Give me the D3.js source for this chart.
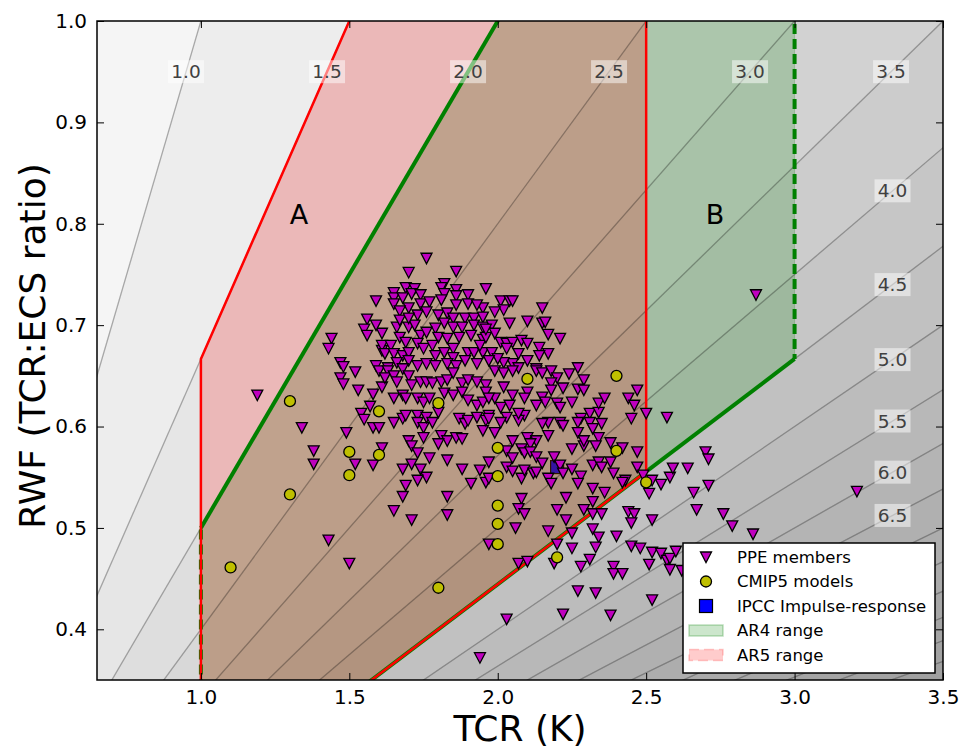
<!DOCTYPE html>
<html>
<head>
<meta charset="utf-8">
<script src="https://d3js.org/d3.v7.min.js"></script>
<style>
body { margin: 0; background: #fff; }
text { font-family: "DejaVu Sans", sans-serif; }
</style>
</head>
<body>
<div id="chart"></div>
<script>
// ECS = TCR / RWF, contour levels
var ecs_levels = [1.0,1.5,2.0,2.5,3.0,3.5,4.0,4.5,5.0,5.5,6.0,6.5,7.0,7.5,8.0,8.5,9.0,9.5,10.0,10.5];
var band_edges = [0.5,1.0,1.5,2.0,2.5,3.0,3.5,4.0,4.5,5.0,5.5,6.0,6.5,7.0,7.5,8.0,8.5,9.0,9.5,10.0,10.5,12.0];
var band_greys = [245,237,230,222,216,210,204,198,193,188,184,180,176,173,170,167,164,162,160,158,156];
var label_levels = [1.0,1.5,2.0,2.5,3.0,3.5,4.0,4.5,5.0,5.5,6.0,6.5];
var x_ticks = [1.0,1.5,2.0,2.5,3.0,3.5];
var y_ticks = [0.4,0.5,0.6,0.7,0.8,0.9,1.0];

// assessed ranges: TCR range and ECS range
var ar4_tcr = [1.0, 3.0], ar4_ecs = [2.0, 4.5];
var ar5_tcr = [1.0, 2.5], ar5_ecs = [1.5, 4.5];

var ipcc_impulse = [[2.20, 0.560]];

var cmip5_models = [
[1.10,0.461],[1.30,0.625],[1.30,0.533],[1.50,0.575],[1.50,0.552],[1.60,0.615],[1.60,0.572],
[1.80,0.623],[1.80,0.441],[2.00,0.579],[2.00,0.551],[2.00,0.522],[2.00,0.504],[2.00,0.484],
[2.10,0.647],[2.20,0.471],[2.40,0.650],[2.40,0.576],[2.50,0.545]];

var ppe_members = [
[1.19,0.631],[1.34,0.599],[1.38,0.576],[1.38,0.563],[1.43,0.488],[1.50,0.465],[1.49,0.594],[1.52,0.563],[1.58,0.562],
[1.44,0.687],[1.43,0.677],[1.59,0.724],[1.56,0.706],[1.55,0.696],[1.56,0.690],[1.61,0.692],[1.47,0.663],[1.48,0.659],
[1.52,0.654],[1.47,0.648],[1.48,0.642],[1.53,0.636],[1.58,0.632],[1.57,0.620],[1.54,0.613],[1.55,0.607],[1.58,0.599],
[1.60,0.599],[1.61,0.579],[1.61,0.675],
[1.76,0.766],[1.70,0.752],[1.86,0.753],[1.82,0.741],[1.81,0.737],[1.96,0.736],[1.65,0.732],[1.69,0.737],[1.72,0.736],[1.86,0.735],
[1.65,0.727],[1.68,0.727],[1.71,0.731],[1.74,0.730],[1.82,0.731],[1.86,0.729],[1.90,0.730],[1.95,0.717],[1.65,0.721],[1.70,0.717],
[1.74,0.721],[1.77,0.723],[1.81,0.725],[1.86,0.720],[1.90,0.721],[1.93,0.720],
[1.67,0.714],[1.73,0.710],[1.76,0.713],[1.80,0.710],[1.83,0.712],[1.85,0.707],[1.89,0.707],[1.92,0.707],[1.95,0.708],
[1.59,0.700],[1.66,0.698],[1.70,0.698],[1.72,0.700],[1.67,0.705],[1.70,0.707],[1.79,0.697],[1.82,0.702],[1.85,0.698],[1.88,0.698],
[1.92,0.700],[1.95,0.698],
[1.67,0.688],[1.69,0.683],[1.74,0.690],[1.76,0.693],[1.80,0.688],[1.83,0.687],[1.87,0.688],[1.91,0.690],[1.95,0.686],
[1.61,0.680],[1.64,0.680],[1.62,0.672],[1.65,0.672],[1.68,0.670],[1.70,0.673],[1.73,0.682],[1.75,0.677],[1.78,0.680],[1.79,0.670],
[1.82,0.673],[1.85,0.677],[1.85,0.668],[1.90,0.673],[1.92,0.673],[1.95,0.673],[1.94,0.680],
[1.59,0.660],[1.63,0.658],[1.66,0.663],[1.70,0.665],[1.73,0.660],[1.76,0.662],[1.79,0.660],[1.83,0.662],[1.86,0.660],[1.89,0.665],
[1.93,0.662],
[2.01,0.724],[2.04,0.724],[2.05,0.724],[2.02,0.715],[1.99,0.713],[2.04,0.702],[2.10,0.704],[2.15,0.717],[2.15,0.702],[2.16,0.703],
[2.17,0.691],[2.21,0.687],[1.98,0.700],[1.99,0.692],[2.01,0.683],[2.03,0.682],[2.05,0.683],[2.08,0.685],[2.10,0.682],[2.14,0.678],
[2.17,0.672],[2.03,0.677],[1.98,0.673],[2.07,0.672],[2.10,0.665],[2.14,0.670],[2.05,0.662],[2.02,0.663],[2.00,0.667],[1.97,0.665],
[2.27,0.658],[2.13,0.657],[2.07,0.658],[1.96,0.688],[1.96,0.696],
[1.61,0.639],[1.60,0.655],[1.63,0.655],[1.62,0.648],[1.65,0.650],[1.66,0.644],[1.68,0.657],[1.70,0.650],[1.71,0.641],[1.74,0.644],
[1.76,0.644],[1.78,0.643],[1.81,0.644],[1.83,0.646],[1.85,0.653],[1.88,0.643],[1.90,0.646],[1.93,0.644],[1.96,0.641],
[1.65,0.628],[1.68,0.631],[1.69,0.628],[1.73,0.628],[1.75,0.624],[1.77,0.628],[1.80,0.614],[1.82,0.633],[1.85,0.631],[1.88,0.634],
[1.90,0.626],[1.93,0.621],[1.95,0.624],
[1.65,0.604],[1.68,0.608],[1.69,0.611],[1.73,0.611],[1.73,0.604],[1.75,0.599],[1.76,0.609],[1.78,0.604],[1.75,0.589],
[1.81,0.591],[1.83,0.586],[1.86,0.589],[1.88,0.588],[1.80,0.583],[1.87,0.608],[1.89,0.603],[1.90,0.606],[1.93,0.609],[1.95,0.596],
[1.96,0.606],[1.70,0.586],[1.71,0.581],[1.73,0.574],[1.77,0.569],[1.83,0.567],
[1.68,0.558],[1.71,0.563],[1.74,0.558],[1.76,0.550],[1.73,0.547],[1.69,0.542],[1.88,0.558],[1.91,0.544],[1.94,0.557],[1.96,0.545],
[1.99,0.655],[2.02,0.653],[2.05,0.655],[2.13,0.655],[2.15,0.653],[2.18,0.655],[2.20,0.648],[2.24,0.652],[2.29,0.646],[2.22,0.638],
[2.27,0.637],[2.29,0.636],[2.18,0.643],[2.18,0.636],[2.15,0.629],[2.16,0.624],[2.10,0.634],[2.09,0.628],[2.13,0.621],[2.09,0.611],
[2.05,0.631],[2.02,0.639],[1.99,0.628],[1.96,0.634],[1.97,0.628],[2.01,0.619],[2.04,0.621],[1.97,0.611],[1.97,0.608],[2.03,0.609],
[2.07,0.606],[2.07,0.613],[2.20,0.623],[2.21,0.619],[2.25,0.624],[2.17,0.604],[2.15,0.603],[2.21,0.604],[2.22,0.601],[2.28,0.608],
[2.27,0.604],[2.31,0.613],[2.34,0.614],[2.31,0.604],[2.34,0.623],[2.35,0.603],[2.36,0.628],[2.32,0.598],[2.34,0.589],[2.33,0.581],
[2.38,0.584],[2.42,0.579],[2.44,0.628],[2.46,0.621],[2.47,0.636],[2.45,0.608],[2.50,0.613],[2.47,0.575],
[2.01,0.604],[1.99,0.594],[2.05,0.586],[2.10,0.589],[2.13,0.586],[2.17,0.591],[2.11,0.583],[2.08,0.578],[2.03,0.576],[2.05,0.569],
[2.09,0.574],[2.11,0.575],[2.13,0.570],[2.15,0.564],[2.25,0.578],[2.29,0.581],[2.27,0.594],[2.29,0.586],
[1.97,0.565],[2.03,0.560],[2.05,0.556],[2.08,0.549],[2.09,0.557],[2.12,0.554],[2.13,0.555],[2.17,0.549],[2.19,0.570],[2.21,0.562],
[2.22,0.554],[2.25,0.558],[2.28,0.551],[2.27,0.544],[2.32,0.562],[2.34,0.565],[2.35,0.560],[2.38,0.565],[2.39,0.554],[2.43,0.547],
[2.47,0.560],[2.49,0.552],[1.97,0.549],[2.18,0.544],
[2.32,0.539],[2.36,0.535],[2.42,0.545],[2.51,0.534],[2.55,0.543],[2.08,0.529],[2.07,0.519],[2.09,0.514],[2.06,0.500],[2.23,0.530],
[2.20,0.518],[2.23,0.508],[2.29,0.518],[2.32,0.526],[2.32,0.514],[2.35,0.514],[2.17,0.497],[2.25,0.495],[2.32,0.499],[2.34,0.491],
[2.40,0.492],[2.44,0.516],[2.46,0.514],[2.45,0.505],[2.52,0.508],[1.97,0.484],[2.20,0.484],[2.25,0.480],[2.33,0.481],[2.19,0.465],
[2.28,0.462],[2.31,0.469],[2.07,0.465],[2.10,0.467],[2.45,0.482],[2.48,0.480],[2.52,0.476],[2.55,0.475],[2.51,0.464],[2.57,0.468],
[2.58,0.470],[2.58,0.459],[2.60,0.477],[2.39,0.462],[2.39,0.455],[2.42,0.455],[2.62,0.458],[2.27,0.438],[2.33,0.436],[2.52,0.429],
[2.03,0.410],[2.22,0.415],[2.38,0.414],
[2.57,0.609],[2.52,0.547],[2.58,0.550],[2.59,0.559],[2.64,0.559],[2.70,0.575],[2.71,0.568],[2.71,0.542],[2.66,0.535],[2.67,0.518],
[2.76,0.514],[2.79,0.502],[2.86,0.494],[3.21,0.536],[2.87,0.730],
[1.68,0.531],[1.65,0.517],[1.71,0.508],[1.83,0.531],[1.83,0.513],[1.94,0.372]];

var W = 965, H = 751;
var svg = d3.select("#chart").append("svg")
  .attr("width", W).attr("height", H);

var x = d3.scaleLinear().domain([0.65, 3.5]).range([97, 943]);
var y = d3.scaleLinear().domain([0.35, 1.0]).range([680, 21]);

svg.append("clipPath").attr("id", "plotclip")
  .append("rect").attr("x", 97).attr("y", 21).attr("width", 846).attr("height", 659);

var plot = svg.append("g").attr("clip-path", "url(#plotclip)");

var line = d3.line().x(function(d) { return x(d[0]); }).y(function(d) { return y(d[1]); });
var far = 20;

// filled ECS bands (wedges through the origin)
plot.selectAll(".band")
  .data(band_greys)
  .enter().append("path")
  .attr("class", "band")
  .attr("d", function(g, k) {
    var l1 = band_edges[k], l2 = band_edges[k + 1];
    return line([[0, 0], [far, far / l1], [far, far / l2]]) + "Z";
  })
  .style("fill", function(g) { return d3.rgb(g, g, g); })
  .style("stroke", function(g) { return d3.rgb(g, g, g); })
  .style("stroke-width", 0.5);

// IPCC impulse response (sits below the range shading)
plot.selectAll(".ipcc")
  .data(ipcc_impulse)
  .enter().append("rect")
  .attr("x", function(d) { return x(d[0]) - 6.5; })
  .attr("y", function(d) { return y(d[1]) - 6.5; })
  .attr("width", 13).attr("height", 13)
  .style("fill", "#0000ff")
  .style("stroke", "#000").style("stroke-width", 1.2);

function corners(tcr, ecs) {
  return [[tcr[0], tcr[0] / ecs[0]], [tcr[1], tcr[1] / ecs[0]],
          [tcr[1], tcr[1] / ecs[1]], [tcr[0], tcr[0] / ecs[1]]];
}
var ar4 = corners(ar4_tcr, ar4_ecs);
var ar5 = corners(ar5_tcr, ar5_ecs);

plot.append("path").attr("d", line(ar4) + "Z")
  .style("fill", "green").style("fill-opacity", 0.2)
  .style("stroke", "green").style("stroke-opacity", 0.2).style("stroke-width", 1);
plot.append("path").attr("d", line(ar5) + "Z")
  .style("fill", "red").style("fill-opacity", 0.2);

// contour lines
plot.selectAll(".cline")
  .data(ecs_levels)
  .enter().append("path")
  .attr("class", "cline")
  .attr("d", function(l) { return line([[0, 0], [far, far / l]]); })
  .style("fill", "none")
  .style("stroke", "#000").style("stroke-opacity", 0.3).style("stroke-width", 1.3);

// AR4 edges: ECS limits solid, TCR limits dashed
plot.append("path").attr("d", line([ar4[0], ar4[1]]))
  .style("fill", "none").style("stroke", "green").style("stroke-width", 4);
plot.append("path").attr("d", line([ar4[2], ar4[3]]))
  .style("fill", "none").style("stroke", "green").style("stroke-width", 4);
plot.append("path").attr("d", line([ar4[1], ar4[2]]))
  .style("fill", "none").style("stroke", "green").style("stroke-width", 4)
  .style("stroke-dasharray", "10,5");
plot.append("path").attr("d", line([ar4[3], ar4[0]]))
  .style("fill", "none").style("stroke", "green").style("stroke-width", 4)
  .style("stroke-dasharray", "10,5");

// AR5 edges
plot.append("path").attr("d", line(ar5) + "Z")
  .style("fill", "none").style("stroke", "red").style("stroke-width", 2.5);

// contour labels: along RWF=0.95 at the top, along TCR=3.33 at the right
var lab = plot.selectAll(".clab")
  .data(label_levels)
  .enter().append("g")
  .attr("class", "clab")
  .attr("transform", function(l) {
    var p = l <= 3.5 ? [l * 0.95, 0.95] : [3.33, 3.33 / l];
    return "translate(" + x(p[0]) + "," + y(p[1]) + ")";
  });
lab.append("rect")
  .attr("x", -18).attr("y", -11.5).attr("width", 36).attr("height", 23)
  .style("fill", "#fff").style("fill-opacity", 0.5);
lab.append("text")
  .attr("text-anchor", "middle").attr("dy", "0.36em")
  .attr("font-size", 18.5)
  .style("fill", "#404040")
  .text(function(l) { return d3.format(".1f")(l); });

plot.append("text").attr("x", 299).attr("y", 214).attr("dy", "0.36em")
  .attr("text-anchor", "middle").attr("font-size", 27).text("A");
plot.append("text").attr("x", 715).attr("y", 214).attr("dy", "0.36em")
  .attr("text-anchor", "middle").attr("font-size", 27).text("B");

// scatter
var tri = "M-5.5,-5L5.5,-5L0,5.5Z";
plot.selectAll(".ppe")
  .data(ppe_members)
  .enter().append("path")
  .attr("class", "ppe")
  .attr("d", tri)
  .attr("transform", function(d) { return "translate(" + x(d[0]) + "," + y(d[1]) + ")"; })
  .style("fill", "#bf00bf")
  .style("stroke", "#000").style("stroke-width", 1.3);

plot.selectAll(".cmip")
  .data(cmip5_models)
  .enter().append("circle")
  .attr("class", "cmip")
  .attr("cx", function(d) { return x(d[0]); })
  .attr("cy", function(d) { return y(d[1]); })
  .attr("r", 5.5)
  .style("fill", "#bfbf00")
  .style("stroke", "#000").style("stroke-width", 1.3);

// axes, ticks pointing inwards on all four sides
function styleAxis(g) {
  g.select(".domain").remove();
  g.selectAll("line").style("stroke", "#000");
  g.selectAll("text").attr("font-size", 20).style("font-family", "DejaVu Sans").style("fill", "#000");
}
svg.append("g").attr("transform", "translate(0,680)")
  .call(d3.axisBottom(x).tickValues(x_ticks).tickSize(-7).tickPadding(10).tickFormat(d3.format(".1f")))
  .call(styleAxis);
svg.append("g").attr("transform", "translate(0,21)")
  .call(d3.axisTop(x).tickValues(x_ticks).tickSize(-7).tickFormat(""))
  .call(styleAxis);
svg.append("g").attr("transform", "translate(97,0)")
  .call(d3.axisLeft(y).tickValues(y_ticks).tickSize(-7).tickPadding(10).tickFormat(d3.format(".1f")))
  .call(styleAxis);
svg.append("g").attr("transform", "translate(943,0)")
  .call(d3.axisRight(y).tickValues(y_ticks).tickSize(-7).tickFormat(""))
  .call(styleAxis);

svg.append("rect").attr("x", 97).attr("y", 21).attr("width", 846).attr("height", 659)
  .style("fill", "none").style("stroke", "#000").style("stroke-width", 1.5);

svg.append("text").attr("x", 520).attr("y", 741)
  .attr("text-anchor", "middle").attr("font-size", 36).text("TCR (K)");
svg.append("text").attr("transform", "translate(45,346) rotate(-90)")
  .attr("text-anchor", "middle").attr("font-size", 36).text("RWF (TCR:ECS ratio)");

// legend
var leg = svg.append("g");
leg.append("rect").attr("x", 683).attr("y", 543).attr("width", 252).attr("height", 130)
  .style("fill", "#fff").style("stroke", "#000").style("stroke-width", 1.5);
var legend_labels = ["PPE members", "CMIP5 models", "IPCC Impulse-response", "AR4 range", "AR5 range"];
var ly = d3.scalePoint().domain(legend_labels).range([557, 655]);
leg.selectAll(".ltext")
  .data(legend_labels)
  .enter().append("text")
  .attr("x", 737).attr("y", function(d) { return ly(d); }).attr("dy", "0.36em")
  .attr("font-size", 16.5).text(function(d) { return d; });
leg.append("path").attr("d", tri)
  .attr("transform", "translate(706," + ly("PPE members") + ")")
  .style("fill", "#bf00bf").style("stroke", "#000").style("stroke-width", 1.3);
leg.append("circle").attr("cx", 706).attr("cy", ly("CMIP5 models")).attr("r", 5.5)
  .style("fill", "#bfbf00").style("stroke", "#000").style("stroke-width", 1.3);
leg.append("rect").attr("x", 699.5).attr("y", ly("IPCC Impulse-response") - 6.5)
  .attr("width", 13).attr("height", 13)
  .style("fill", "#0000ff").style("stroke", "#000").style("stroke-width", 1.2);
leg.append("rect").attr("x", 689).attr("y", ly("AR4 range") - 5.5).attr("width", 34).attr("height", 11)
  .style("fill", "green").style("fill-opacity", 0.2)
  .style("stroke", "green").style("stroke-opacity", 0.25).style("stroke-width", 1.5);
leg.append("rect").attr("x", 689).attr("y", ly("AR5 range") - 5.5).attr("width", 34).attr("height", 11)
  .style("fill", "red").style("fill-opacity", 0.2)
  .style("stroke", "red").style("stroke-opacity", 0.2).style("stroke-width", 1.5)
  .style("stroke-dasharray", "10,5");
</script>
</body>
</html>
